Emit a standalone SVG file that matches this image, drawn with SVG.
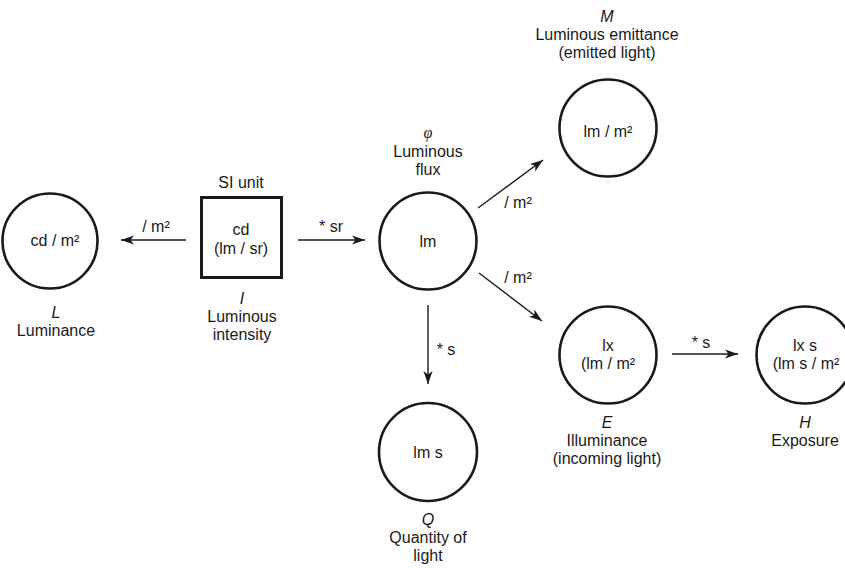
<svg xmlns="http://www.w3.org/2000/svg" width="845" height="568" viewBox="0 0 845 568">
  <defs>
    <style>
      text { font-family: "Liberation Sans", Arial, sans-serif; font-size: 16px; fill: #1a1a1a; text-anchor: middle; }
      .sym { font-style: italic; }
      .phi { font-family: "Liberation Serif", "Times New Roman", serif; font-style: italic; font-size: 16px; }
      .unit { fill: #fff; stroke: #1a1a1a; stroke-width: 2.6; }
      .si { fill: #fff; stroke: #1a1a1a; stroke-width: 3; }
      .edge { fill: none; stroke: #1a1a1a; stroke-width: 1.4; marker-end: url(#arrow); }
      .lbl { font-size: 16px; }
    </style>
    <marker id="arrow" markerUnits="userSpaceOnUse" markerWidth="14" markerHeight="10" viewBox="0 -5 14 10" refX="13" refY="0" orient="auto">
      <path d="M0,-4.6 L13,0 L0,4.6 L3.5,0 Z" fill="#1a1a1a"/>
    </marker>
  </defs>
  <rect width="845" height="568" fill="#fff"/>

  <!-- connectors -->
  <g id="connectors">
    <line class="edge" x1="186" y1="240" x2="121" y2="240"/>
    <text class="lbl" x="156" y="232">/ m²</text>

    <line class="edge" x1="298" y1="240" x2="365" y2="240"/>
    <text class="lbl" x="331" y="232">* sr</text>

    <line class="edge" x1="478" y1="208" x2="543" y2="160"/>
    <text class="lbl" x="518" y="208">/ m²</text>

    <line class="edge" x1="479" y1="273" x2="542" y2="321"/>
    <text class="lbl" x="518" y="283">/ m²</text>

    <line class="edge" x1="428" y1="305" x2="428" y2="384"/>
    <text class="lbl" x="446" y="355">* s</text>

    <line class="edge" x1="672" y1="354" x2="738" y2="354"/>
    <text class="lbl" x="701" y="348">* s</text>
  </g>

  <!-- luminance -->
  <g id="node-luminance">
    <circle class="unit" cx="50" cy="241" r="47.5"/>
    <text x="55" y="246">cd / m²</text>
    <text class="sym" x="56" y="318">L</text>
    <text x="56" y="336">Luminance</text>
  </g>

  <!-- luminous intensity (SI base unit) -->
  <g id="node-intensity">
    <text x="241" y="188">SI unit</text>
    <rect class="si" x="201.5" y="197.5" width="80" height="80"/>
    <text x="241" y="235">cd</text>
    <text x="241" y="254">(lm / sr)</text>
    <text class="sym" x="242" y="304">I</text>
    <text x="242" y="322">Luminous</text>
    <text x="242" y="340">intensity</text>
  </g>

  <!-- luminous flux -->
  <g id="node-flux">
    <text class="phi" x="428" y="138">φ</text>
    <text x="428" y="157">Luminous</text>
    <text x="428" y="175">flux</text>
    <circle class="unit" cx="428" cy="241" r="48.5"/>
    <text x="428" y="247">lm</text>
  </g>

  <!-- luminous emittance -->
  <g id="node-emittance">
    <text class="sym" x="607" y="22">M</text>
    <text x="607" y="40">Luminous emittance</text>
    <text x="607" y="58">(emitted light)</text>
    <circle class="unit" cx="608" cy="128" r="48.5"/>
    <text x="608" y="137">lm / m²</text>
  </g>

  <!-- illuminance -->
  <g id="node-illuminance">
    <circle class="unit" cx="608" cy="355" r="48.5"/>
    <text x="608" y="351">lx</text>
    <text x="608" y="369">(lm / m²</text>
    <text class="sym" x="607" y="428">E</text>
    <text x="607" y="446">Illuminance</text>
    <text x="607" y="464">(incoming light)</text>
  </g>

  <!-- exposure -->
  <g id="node-exposure">
    <circle class="unit" cx="805" cy="355" r="48.5"/>
    <text x="805" y="351">lx s</text>
    <text x="806" y="369">(lm s / m²</text>
    <text class="sym" x="805" y="428">H</text>
    <text x="805" y="446">Exposure</text>
  </g>

  <!-- quantity of light -->
  <g id="node-quantity">
    <circle class="unit" cx="428" cy="452" r="49"/>
    <text x="428" y="458">lm s</text>
    <text class="sym" x="428" y="525">Q</text>
    <text x="428" y="543">Quantity of</text>
    <text x="428" y="561">light</text>
  </g>
</svg>
